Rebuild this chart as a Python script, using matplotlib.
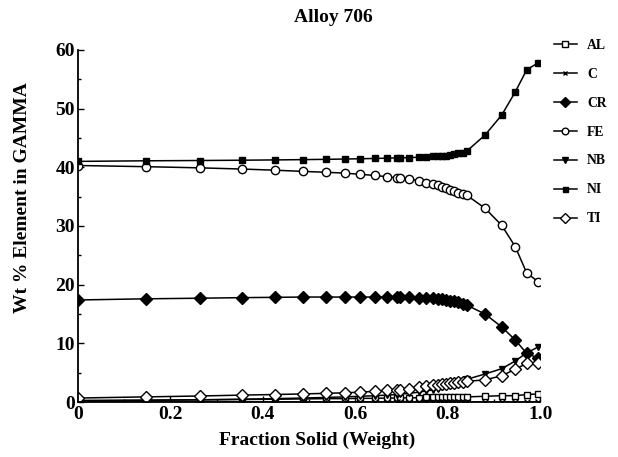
import matplotlib
matplotlib.use("Agg")
import matplotlib.pyplot as plt
from matplotlib.ticker import MultipleLocator

plt.rcParams['font.family'] = ['Liberation Serif', 'DejaVu Serif']
plt.rcParams['font.weight'] = 'bold'

# fraction solid (weight)
fs = [0, 0.147, 0.264, 0.354, 0.426, 0.486, 0.536, 0.578, 0.610, 0.643,
      0.668, 0.690, 0.697, 0.717, 0.737, 0.753, 0.769, 0.778, 0.787, 0.797,
      0.805, 0.814, 0.823, 0.833, 0.842, 0.881, 0.917, 0.946, 0.971, 0.996]

al = [0.3, 0.35, 0.4, 0.45, 0.5, 0.55, 0.6, 0.6, 0.65, 0.65,
      0.7, 0.7, 0.7, 0.75, 0.75, 0.8, 0.8, 0.8, 0.85, 0.85,
      0.85, 0.9, 0.9, 0.9, 0.9, 1.0, 1.1, 1.1, 1.3, 1.4]
c = [0.05] * 30
cr = [17.4, 17.6, 17.7, 17.8, 17.85, 17.9, 17.9, 17.9, 17.9, 17.9,
      17.9, 17.9, 17.9, 17.85, 17.8, 17.75, 17.7, 17.6, 17.5, 17.4,
      17.3, 17.2, 17.0, 16.8, 16.5, 15.0, 12.8, 10.6, 8.3, 7.5]
fe = [40.3, 40.1, 39.9, 39.7, 39.5, 39.3, 39.15, 39.0, 38.8, 38.6,
      38.4, 38.2, 38.15, 38.0, 37.7, 37.4, 37.1, 36.9, 36.7, 36.4,
      36.2, 36.0, 35.7, 35.5, 35.2, 33.0, 30.1, 26.5, 22.0, 20.5]
nb = [0.2, 0.3, 0.4, 0.5, 0.6, 0.7, 0.8, 0.9, 1.0, 1.1,
      1.2, 1.3, 1.35, 1.5, 1.7, 1.9, 2.1, 2.3, 2.5, 2.7,
      2.9, 3.1, 3.4, 3.6, 3.9, 4.8, 5.7, 7.0, 8.4, 9.4]
ni = [41.0, 41.1, 41.15, 41.2, 41.25, 41.3, 41.35, 41.4, 41.45, 41.5,
      41.55, 41.6, 41.6, 41.65, 41.7, 41.75, 41.85, 41.9, 41.95, 42.0,
      42.1, 42.2, 42.35, 42.5, 42.8, 45.5, 48.9, 52.8, 56.6, 57.8]
ti = [0.7, 0.9, 1.05, 1.2, 1.3, 1.4, 1.5, 1.6, 1.7, 1.85,
      2.0, 2.1, 2.15, 2.3, 2.5, 2.7, 2.85, 2.95, 3.05, 3.15,
      3.25, 3.3, 3.4, 3.45, 3.55, 3.8, 4.5, 5.6, 6.6, 6.6]

fig = plt.figure(figsize=(6.18, 4.57), dpi=100)
ax = fig.add_axes([0.126, 0.12, 0.748, 0.771])

kw = dict(color='black', lw=1.1)
ax.plot(fs, al, marker='s', ms=5, mfc='white', mec='black', label='AL', **kw)
ax.plot(fs, c, marker='x', ms=4, mec='black', label='C', **kw)
ax.plot(fs, cr, marker='D', ms=6.5, mfc='black', mec='black', label='CR', **kw)
ax.plot(fs, fe, marker='o', ms=6, mfc='white', mec='black', label='FE', **kw)
ax.plot(fs, nb, marker='v', ms=5, mfc='black', mec='black', label='NB', **kw)
ax.plot(fs, ni, marker='s', ms=4.5, mfc='black', mec='black', label='NI', **kw)
ax.plot(fs, ti, marker='D', ms=6, mfc='white', mec='black', label='TI', **kw)

ax.set_xlim(0, 1.0)
ax.set_ylim(0, 60)
ax.xaxis.set_major_locator(MultipleLocator(0.2))
ax.xaxis.set_minor_locator(MultipleLocator(0.1))
ax.yaxis.set_major_locator(MultipleLocator(10))
ax.yaxis.set_minor_locator(MultipleLocator(5))
ax.set_xticks([0, 0.2, 0.4, 0.6, 0.8, 1.0], ['0', '0.2', '0.4', '0.6', '0.8', '1.0'])
ax.tick_params(which='both', direction='in', labelsize=14, width=1)
ax.tick_params(which='major', length=4)
ax.tick_params(which='minor', length=2.5)
ax.tick_params(axis='y', pad=2)
ax.tick_params(axis='x', pad=3)
for lab in ax.get_xticklabels() + ax.get_yticklabels():
    lab.set_fontweight('bold')
ax.spines['top'].set_visible(False)
ax.spines['right'].set_visible(False)
ax.spines['left'].set_linewidth(1.3)
ax.spines['bottom'].set_linewidth(1.3)

fig.text(0.539, 0.962, 'Alloy 706', ha='center', va='center', fontsize=14, fontweight='bold')
fig.text(0.513, 0.037, 'Fraction Solid (Weight)', ha='center', va='center',
         fontsize=14, fontweight='bold')
fig.text(0.036, 0.567, 'Wt % Element in GAMMA', ha='center', va='center',
         rotation=90, fontsize=14, fontweight='bold')

fig.legend(loc='upper left', bbox_to_anchor=(0.883, 0.933), frameon=False,
           handlelength=1.7, handletextpad=0.75, labelspacing=1.17,
           markerscale=0.8, borderaxespad=0.2,
           prop={'family': 'Liberation Serif', 'weight': 'bold', 'size': 9.8})

fig.savefig('out.png', dpi=100)
